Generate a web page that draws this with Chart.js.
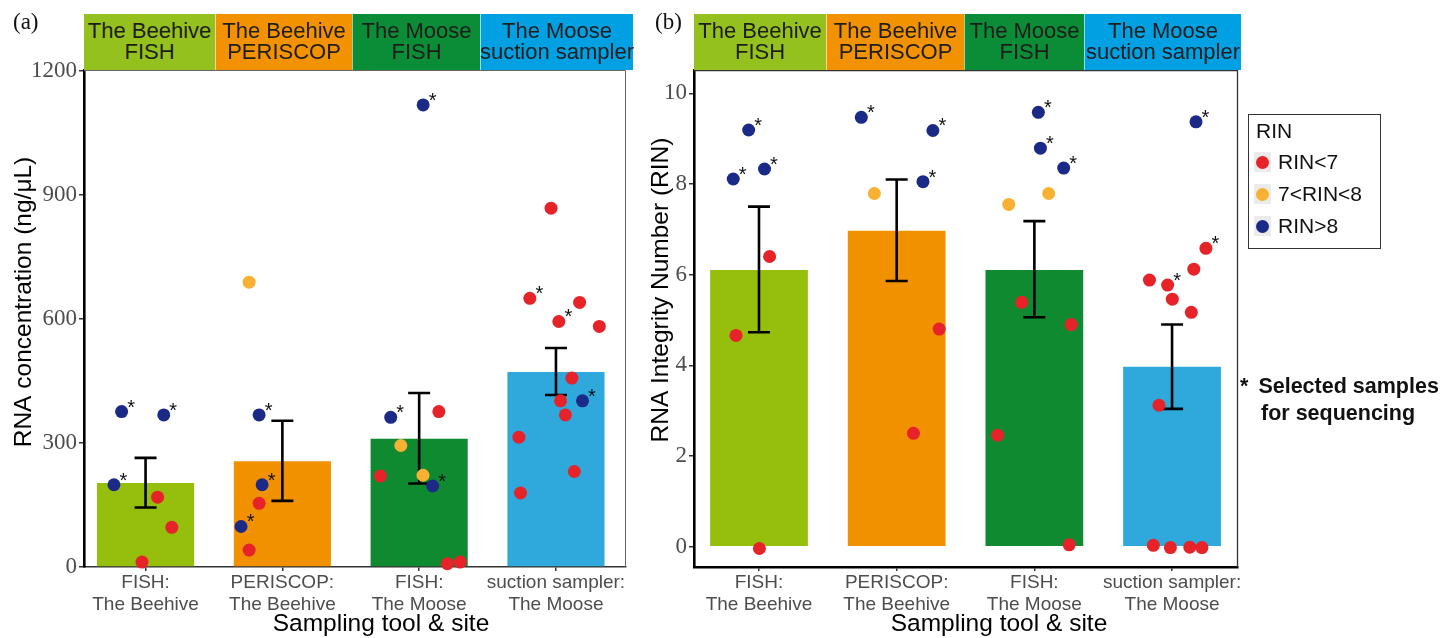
<!DOCTYPE html>
<html><head><meta charset="utf-8">
<script src="https://cdn.jsdelivr.net/npm/chart.js@4.4.1/dist/chart.umd.min.js"></script>
<style>
html,body{margin:0;padding:0;background:#fff;}
#wrap{position:relative;width:1445px;height:638px;overflow:hidden;font-family:"Liberation Sans",Arial,sans-serif;}
canvas{position:absolute;top:0;}
#ca{left:0;} #cb{left:640px;}
.seg{position:absolute;top:14px;height:56px;display:flex;flex-direction:column;align-items:center;justify-content:center;text-align:center;font-size:22px;line-height:21.5px;color:#1d1d1b;white-space:nowrap;padding-bottom:2px;}
.letter{position:absolute;top:9px;font-family:"Liberation Serif","Times New Roman",serif;font-size:23px;line-height:26px;color:#111;}
#legend{position:absolute;left:1248px;top:114px;width:133px;height:135px;border:1.5px solid #333;box-sizing:border-box;}
#legend .t{position:absolute;left:7px;top:4px;font-size:21px;line-height:24px;color:#111;}
#legend .key{position:absolute;left:5px;width:17px;height:20px;background:#ebebeb;}
#legend .dot{position:absolute;left:2px;top:4px;width:13px;height:13px;border-radius:50%;}
#legend .lab{position:absolute;left:29px;font-size:21px;line-height:24px;color:#111;}
.note{position:absolute;font-weight:bold;font-size:21.5px;line-height:26px;color:#111;white-space:nowrap;}
</style></head>
<body><div id="wrap">
<canvas id="ca" width="640" height="638" style="width:640px;height:638px"></canvas>
<canvas id="cb" width="805" height="638" style="width:805px;height:638px"></canvas>
<div class="letter" style="left:13px">(a)</div>
<div class="letter" style="left:655px">(b)</div>
<div id="legend"></div>
<div class="note" style="left:1240px;top:373px">*<span style="margin-left:10px">Selected samples</span></div>
<div class="note" style="left:1261px;top:400px">for sequencing</div>
</div>
<script>
// ---------- data ----------
const groupLabels = [['FISH:','The Beehive'],['PERISCOP:','The Beehive'],['FISH:','The Moose'],['suction sampler:','The Moose']];
const stripLines = [['The Beehive','FISH'],['The Beehive','PERISCOP'],['The Moose','FISH'],['The Moose','suction sampler']];
const rinClasses = ['RIN<7','7<RIN<8','RIN>8'];
const concTicks = [0,300,600,900,1200];
const rinTicks = [0,2,4,6,8,10];

const concMean    = [203, 256, 310, 472];
const concErrLow  = [144, 160, 202, 416];
const concErrHigh = [264, 354, 421, 530];

const rinMean    = [6.10, 6.97, 6.10, 3.97];
const rinErrLow  = [4.73, 5.86, 5.06, 3.04];
const rinErrHigh = [7.50, 8.10, 7.18, 4.90];

// individual samples, panel (a): jittered x position, concentration, RIN class (0 red,1 orange,2 blue), selected
const concX = [0.825,1.133,0.769,1.088,1.192,0.974,
  1.757,1.830,1.852,1.830,1.698,1.757,
  3.029,2.792,3.144,2.866,2.717,3.028,3.099,3.206,3.299,
  3.964,3.809,4.173,4.021,4.317,4.116,4.033,4.194,4.069,3.729,4.134,3.741];
const concY = [376,368,199,169,96,12,
  689,368,199,154,98,41,
  1118,362,376,294,220,222,196,8,12,
  868,650,640,594,582,457,402,402,368,314,231,179];
const concClass = [2,2,2,0,0,0,
  1,2,2,0,2,0,
  2,2,0,1,0,1,2,0,0,
  0,0,0,0,0,0,0,2,0,0,0,0];
const concSelected = [1,1,1,0,0,0,
  0,1,1,0,1,0,
  1,1,0,0,0,0,1,0,0,
  0,1,0,1,0,0,0,1,0,0,0,0];

// individual samples, panel (b)
const rinX = [0.925,1.040,0.813,1.077,0.833,1.003,
  1.743,2.263,2.191,1.838,2.309,2.122,
  3.029,3.044,3.213,3.104,2.814,2.908,3.267,2.733,3.253,
  4.174,4.246,4.158,3.836,3.968,4.002,4.140,3.905,3.864,3.988,4.129,4.217];
const rinY = [9.19,8.33,8.11,6.40,4.66,-0.04,
  9.47,9.18,8.05,7.79,4.80,2.50,
  9.58,8.79,8.35,7.79,7.55,5.39,4.90,2.46,0.04,
  9.37,6.58,6.12,5.88,5.77,5.46,5.17,3.12,0.03,-0.02,-0.01,-0.02];
const rinClass = [2,2,2,0,0,0,
  2,2,2,1,0,0,
  2,2,2,1,1,0,0,0,0,
  2,0,0,0,0,0,0,0,0,0,0,0];
const rinSelected = [1,1,1,0,0,0,
  1,1,1,0,0,0,
  1,1,1,0,0,0,0,0,0,
  1,1,0,0,1,0,0,0,0,0,0,0];

// ---------- styles ----------
const barColors   = ['#96bf0d','#f29100','#108a30','#2fa8dc'];
const stripColors = ['#95c11f','#f39200','#0a8d36','#00a0e3'];
const classColors = ['#e52329','#f8b133','#1b2a86'];
const SANS = '"Liberation Sans", Arial, sans-serif';
const SERIF = '"Liberation Serif", "Times New Roman", serif';

// ---------- strips, legend ----------
const wrap = document.getElementById('wrap');
function strip(edges){
  stripLines.forEach((lines,i)=>{
    const d = document.createElement('div');
    d.className='seg';
    d.style.left = edges[i]+'px';
    d.style.width = (edges[i+1]-edges[i])+'px';
    d.style.background = stripColors[i];
    if (i>0) d.style.borderLeft = '1px solid rgba(255,255,255,0.6)';
    d.style.boxSizing='border-box';
    lines.forEach(t=>{ const s=document.createElement('div'); s.textContent=t; d.appendChild(s); });
    wrap.appendChild(d);
  });
}
strip([84,215,352,480,633]);
strip([694,826,964,1084,1241]);

const lg = document.getElementById('legend');
lg.innerHTML = '<div class="t">RIN</div>';
const legendTops = [37, 69, 101];
rinClasses.forEach((name,i)=>{
  const k = document.createElement('div'); k.className='key'; k.style.top=legendTops[i]+'px';
  const dt = document.createElement('div'); dt.className='dot'; dt.style.background=classColors[i]; k.appendChild(dt);
  const l = document.createElement('div'); l.className='lab'; l.style.top=(legendTops[i]-2)+'px'; l.textContent=name;
  lg.appendChild(k); lg.appendChild(l);
});

// ---------- plugin ----------
const decor = {
  id:'decor',
  beforeDatasetsDraw(chart, args, o){
    const {ctx, chartArea:a} = chart;
    ctx.save();
    ctx.strokeStyle=o.boxColor; ctx.lineWidth=o.boxWidth;
    ctx.beginPath();
    ctx.moveTo(a.left, a.top+0.5); ctx.lineTo(a.right-0.5, a.top+0.5); ctx.lineTo(a.right-0.5, a.bottom);
    ctx.stroke();
    ctx.restore();
  },
  afterDatasetDraw(chart, args, o){
    if (args.meta.type !== 'bar') return;
    const {ctx} = chart; const xs = chart.scales.x, ys = chart.scales.y;
    ctx.save(); ctx.strokeStyle='#000'; ctx.lineWidth=2.6; ctx.lineCap='butt';
    o.low.forEach((lo,i)=>{
      const x = xs.getPixelForValue(i+1), y1 = ys.getPixelForValue(lo), y2 = ys.getPixelForValue(o.high[i]);
      ctx.beginPath();
      ctx.moveTo(x,y1); ctx.lineTo(x,y2);
      ctx.moveTo(x-11,y1); ctx.lineTo(x+11,y1);
      ctx.moveTo(x-11,y2); ctx.lineTo(x+11,y2);
      ctx.stroke();
    });
    ctx.restore();
  },
  afterDatasetsDraw(chart){
    const {ctx} = chart;
    ctx.save(); ctx.fillStyle='#111'; ctx.font='20px '+SANS; ctx.textAlign='center'; ctx.textBaseline='alphabetic';
    chart.data.datasets.forEach((ds,i)=>{
      if (ds.type!=='scatter') return;
      chart.getDatasetMeta(i).data.forEach((el,j)=>{
        if (ds.data[j].sel) ctx.fillText('*', el.x+9.5, el.y+2);
      });
    });
    ctx.restore();
  },
  afterDraw(chart, args, o){
    const {ctx} = chart;
    ctx.save(); ctx.fillStyle='#000'; ctx.font='24.5px '+SANS; ctx.textAlign='center'; ctx.textBaseline='middle';
    ctx.fillText(o.xTitle, o.xTitleX, o.xTitleY);
    ctx.translate(o.yTitleX, o.yTitleY); ctx.rotate(-Math.PI/2);
    ctx.fillText(o.yTitle, 0, 0);
    ctx.restore();
  }
};

function pointSets(xs, ys, cls, sel){
  return classColors.map((col,c)=>({
    type:'scatter', order:0, clip:false,
    data: xs.map((x,i)=>({x:x, y:ys[i], sel:sel[i], c:cls[i]})).filter(p=>p.c===c),
    backgroundColor:col, pointBackgroundColor:col, borderWidth:0, pointBorderWidth:0,
    pointRadius:6.5, pointHoverRadius:6.5
  }));
}

function makeChart(id, o){
  return new Chart(document.getElementById(id), {
    type:'bar',
    data:{datasets:[
      {type:'bar', order:10, data:o.mean.map((v,i)=>({x:i+1,y:v})), backgroundColor:barColors,
       barPercentage:0.71, categoryPercentage:1, borderWidth:0},
      ...pointSets(o.px, o.py, o.pc, o.ps)
    ]},
    options:{
      responsive:false, animation:false, devicePixelRatio:1,
      layout:{padding:{left:0, right:o.padRight, top:70, bottom:0}},
      plugins:{legend:{display:false}, tooltip:{enabled:false},
        decor:{low:o.low, high:o.high, boxColor:o.boxColor, boxWidth:o.boxWidth,
               xTitle:'Sampling tool & site', xTitleX:o.xTitleX, xTitleY:624,
               yTitle:o.yTitle, yTitleX:o.yTitleX, yTitleY:o.yTitleY}},
      scales:{
        x:{type:'linear', min:o.xMin, max:o.xMax, offset:false,
           afterBuildTicks:s=>{ s.ticks = groupLabels.map((_,i)=>({value:i+1})); },
           afterFit:s=>{ s.height = 71; },
           ticks:{autoSkip:false, maxRotation:0, minRotation:0, padding:0, color:'#4d4d4d',
                  font:{family:SANS, size:19}, callback:v=>groupLabels[Math.round(v)-1]},
           grid:{display:true, offset:false, drawOnChartArea:false, drawTicks:true, tickLength:4, color:'#333', lineWidth:1.5},
           border:{display:true, color:o.xBorderColor, width:o.xBorderWidth}},
        y:{type:'linear', min:o.yMin, max:o.yMax,
           afterBuildTicks:s=>{ s.ticks = o.ticks.map(v=>({value:v})); },
           afterFit:s=>{ s.width = o.yWidth; },
           ticks:{padding:2, color:'#4d4d4d', font:{family:SERIF, size:23}, callback:v=>String(v)},
           grid:{display:true, drawOnChartArea:false, drawTicks:true, tickLength:5, color:'#333', lineWidth:1.5},
           border:{display:true, color:'#000', width:2.6}}
      }
    },
    plugins:[decor]
  });
}

makeChart('ca', {mean:concMean, low:concErrLow, high:concErrHigh,
  px:concX, py:concY, pc:concClass, ps:concSelected, ticks:concTicks,
  xMin:0.550, xMax:4.512, yMin:0, yMax:1202.4, yWidth:84, padRight:14,
  xBorderColor:'#333', xBorderWidth:1.6, boxColor:'#666', boxWidth:1,
  yTitle:'RNA concentration (ng/μL)', yTitleX:24, yTitleY:302, xTitleX:381});

makeChart('cb', {mean:rinMean, low:rinErrLow, high:rinErrHigh,
  px:rinX, py:rinY, pc:rinClass, ps:rinSelected, ticks:rinTicks,
  xMin:0.528, xMax:4.479, yMin:-0.448, yMax:10.514, yWidth:54, padRight:207,
  xBorderColor:'#000', xBorderWidth:2.4, boxColor:'#333', boxWidth:1.3,
  yTitle:'RNA Integrity Number (RIN)', yTitleX:21, yTitleY:290, xTitleX:359});
</script>
</body></html>
